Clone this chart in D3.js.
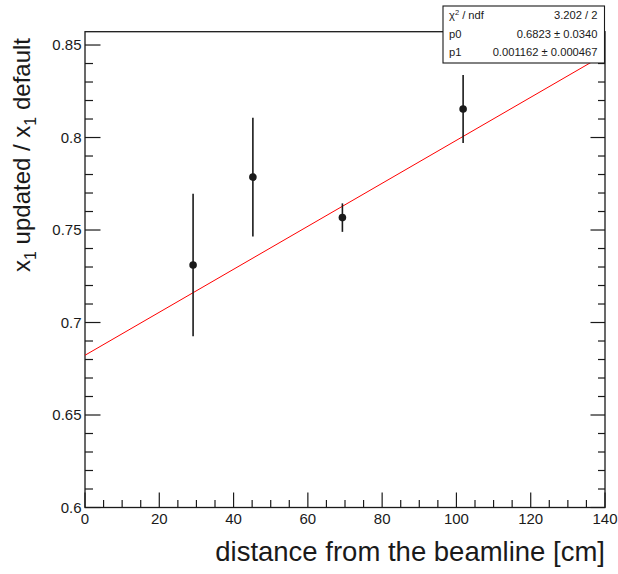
<!DOCTYPE html>
<html>
<head>
<meta charset="utf-8">
<script src="https://cdn.jsdelivr.net/npm/d3@7"></script>
<style>
  body { margin: 0; background: #fff; }
  svg { display: block; font-family: "Liberation Sans", Arial, Helvetica, sans-serif; }
</style>
</head>
<body>
<svg id="chart" width="618" height="574"></svg>
<script>
// ---- data ----
const distances = [29.1, 45.2, 69.3, 101.8];
const ratios    = [0.7311, 0.7786, 0.7567, 0.8154];
const ratioErrs = [0.0385, 0.0321, 0.0077, 0.0184];
const fitP0 = 0.6823;
const fitP1 = 0.001162;
const xTicks = [0, 20, 40, 60, 80, 100, 120, 140];
const yTicks = [0.6, 0.65, 0.7, 0.75, 0.8, 0.85];
const statsRows = [
  ["χ² / ndf", "3.202 / 2"],
  ["p0", "0.6823 ± 0.0340"],
  ["p1", "0.001162 ± 0.000467"]
];

const svg = d3.select("#chart");
const L = 85, R = 605, T = 31.7, B = 507.5;
const x = d3.scaleLinear().domain([0, 140]).range([L, R]);
const y = d3.scaleLinear().domain([0.6, 0.8572]).range([B, T]);

const col = "#1a1a1a";

// minor ticks
const xMinor = d3.range(0, 140.001, 5);
const yMinor = d3.range(0.6, 0.8572, 0.01).map(v => +v.toFixed(3));

const g = svg.append("g");
// x ticks (bottom, pointing up)
g.selectAll(".xt").data(xMinor).join("line")
  .attr("x1", d => x(d)).attr("x2", d => x(d))
  .attr("y1", B).attr("y2", d => B - (d % 20 === 0 ? 15 : 7.5))
  .attr("stroke", col).attr("stroke-width", 1.2);
// y ticks left
g.selectAll(".yt").data(yMinor).join("line")
  .attr("x1", L).attr("x2", d => L + (Math.abs(Math.round(d*100) % 5) === 0 ? 15.5 : 8))
  .attr("y1", d => y(d)).attr("y2", d => y(d))
  .attr("stroke", col).attr("stroke-width", 1.2);
// y ticks right
g.selectAll(".ytr").data(yMinor).join("line")
  .attr("x1", R).attr("x2", d => R - (Math.abs(Math.round(d*100) % 5) === 0 ? 14.5 : 7))
  .attr("y1", d => y(d)).attr("y2", d => y(d))
  .attr("stroke", col).attr("stroke-width", 1.2);

// frame
svg.append("rect").attr("x", L).attr("y", T).attr("width", R - L).attr("height", B - T)
  .attr("fill", "none").attr("stroke", col).attr("stroke-width", 1.3);

// tick labels
svg.selectAll(".xl").data(xTicks).join("text")
  .attr("x", d => x(d)).attr("y", 524)
  .attr("text-anchor", "middle").attr("font-size", 15).attr("fill", col)
  .text(d => d);
svg.selectAll(".yl").data(yTicks).join("text")
  .attr("x", 81.5).attr("y", d => y(d)).attr("dy", "0.35em")
  .attr("text-anchor", "end").attr("font-size", 15).attr("fill", col)
  .text(d => d);

// fit line
const line = d3.line().x(d => x(d)).y(d => y(fitP0 + fitP1 * d));
svg.append("path").datum([0, 140]).attr("d", line)
  .attr("fill", "none").attr("stroke", "#ff0000").attr("stroke-width", 1);

// error bars & points
const pts = distances.map((d, i) => ({ x: d, y: ratios[i], e: ratioErrs[i] }));
svg.selectAll(".eb").data(pts).join("line")
  .attr("x1", d => x(d.x)).attr("x2", d => x(d.x))
  .attr("y1", d => y(d.y + d.e)).attr("y2", d => y(d.y - d.e))
  .attr("stroke", col).attr("stroke-width", 1.6);
svg.selectAll(".pt").data(pts).join("circle")
  .attr("cx", d => x(d.x)).attr("cy", d => y(d.y)).attr("r", 3.8)
  .attr("fill", col);

// stats box
const bx = 443, by = 6, bw = 161.5, bh = 57;
svg.append("rect").attr("x", bx).attr("y", by).attr("width", bw).attr("height", bh)
  .attr("fill", "#fff").attr("stroke", col).attr("stroke-width", 1.1);
const rowY = [19, 37.5, 56];
statsRows.forEach((r, i) => {
  const lt = svg.append("text").attr("x", bx + 6).attr("y", rowY[i])
    .attr("font-size", 11.2).attr("fill", col);
  if (i === 0) {
    lt.append("tspan").text("χ");
    lt.append("tspan").attr("font-size", 7.5).attr("dy", -4).text("2");
    lt.append("tspan").attr("dy", 4).text(" / ndf");
  } else {
    lt.text(r[0]);
  }
  svg.append("text").attr("x", bx + bw - 7).attr("y", rowY[i])
    .attr("text-anchor", "end").attr("font-size", 11.2).attr("fill", col).text(r[1]);
});

// axis titles
svg.append("text").attr("x", 605).attr("y", 561)
  .attr("text-anchor", "end").attr("font-size", 27.5).attr("fill", col)
  .text("distance from the beamline [cm]");

const yt = svg.append("text")
  .attr("transform", "translate(30,38) rotate(-90)")
  .attr("text-anchor", "end").attr("font-size", 24).attr("fill", col);
yt.append("tspan").text("x");
yt.append("tspan").attr("font-size", 16).attr("dy", 6).text("1");
yt.append("tspan").attr("dy", -6).text(" updated / x");
yt.append("tspan").attr("font-size", 16).attr("dy", 6).text("1");
yt.append("tspan").attr("dy", -6).text(" default");
</script>
</body>
</html>
